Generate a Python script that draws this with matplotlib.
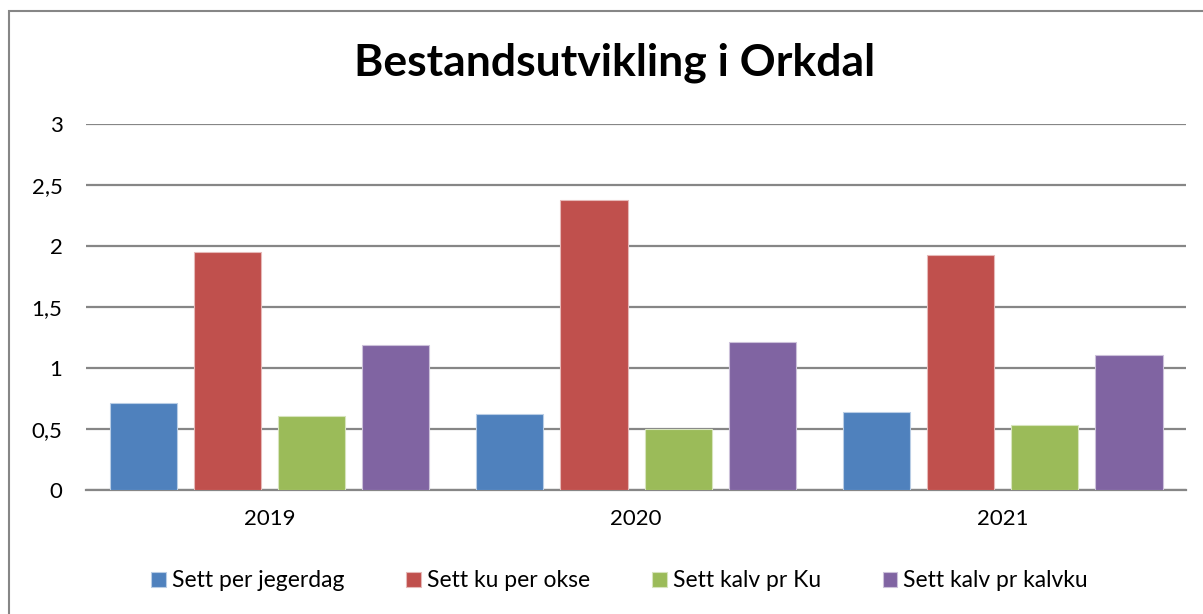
import numpy as np
import matplotlib
matplotlib.use('Agg')
import matplotlib.pyplot as plt
from matplotlib.patches import Rectangle
from matplotlib.ticker import FuncFormatter

plt.rcParams['font.family'] = ['Lato', 'DejaVu Sans']

# data
years = ['2019', '2020', '2021']
series_names = ['Sett per jegerdag', 'Sett ku per okse', 'Sett kalv pr Ku', 'Sett kalv pr kalvku']
sett_per_jegerdag = [0.71, 0.62, 0.64]
sett_ku_per_okse = [1.95, 2.38, 1.93]
sett_kalv_pr_ku = [0.61, 0.50, 0.53]
sett_kalv_pr_kalvku = [1.19, 1.21, 1.11]
colors = ['#4F81BD', '#C0504D', '#9BBB59', '#8064A2']
edges = ['#B9CDE5', '#E6B9B8', '#D7E4BD', '#CCC1DA']

all_series = [sett_per_jegerdag, sett_ku_per_okse, sett_kalv_pr_ku, sett_kalv_pr_kalvku]

fig = plt.figure(figsize=(12.03, 6.14), dpi=100)
ax = fig.add_axes([0.0715, 0.202, 0.9145, 0.596])

x = np.arange(len(years))
bar_w = 0.183
step = 0.2295
for i, (vals, name) in enumerate(zip(all_series, series_names)):
    offs = (i - 1.5) * step
    ax.bar(x + offs, vals, width=bar_w, color=colors[i], edgecolor=edges[i],
           linewidth=0.8, label=name, zorder=3)

ax.set_xlim(-0.5, 2.5)
ax.set_ylim(0, 3)
ax.set_yticks(np.arange(0, 3.01, 0.5))
ax.yaxis.set_major_formatter(FuncFormatter(lambda v, p: ('%g' % v).replace('.', ',')))
ax.set_xticks(x)
ax.set_xticklabels(years)
ax.grid(axis='y', color='#868686', linewidth=1.6, zorder=0)
for s in ['top', 'right', 'left']:
    ax.spines[s].set_visible(False)
ax.spines['bottom'].set_color('#868686')
ax.spines['bottom'].set_linewidth(1.6)
ax.tick_params(axis='both', length=0, labelsize=16, colors='black')
ax.tick_params(axis='y', pad=17)
ax.tick_params(axis='x', pad=14)

fig.text(0.511, 0.898, 'Bestandsutvikling i Orkdal', ha='center', va='center',
         fontsize=32, fontweight='bold')

leg = fig.legend(loc='center', bbox_to_anchor=(0.515, 0.054), ncol=4, frameon=False,
                 fontsize=16.5, handlelength=0.65, handleheight=0.65, handletextpad=0.25,
                 columnspacing=2.7)

# chart border (only top and left edges visible in the crop)
fig.patches.append(Rectangle((9 / 1203, -0.1), 1.2, 1 - 11 / 614 + 0.1,
                             transform=fig.transFigure, fill=False,
                             edgecolor='#868686', linewidth=1.5))

fig.savefig('out.png', dpi=100)
